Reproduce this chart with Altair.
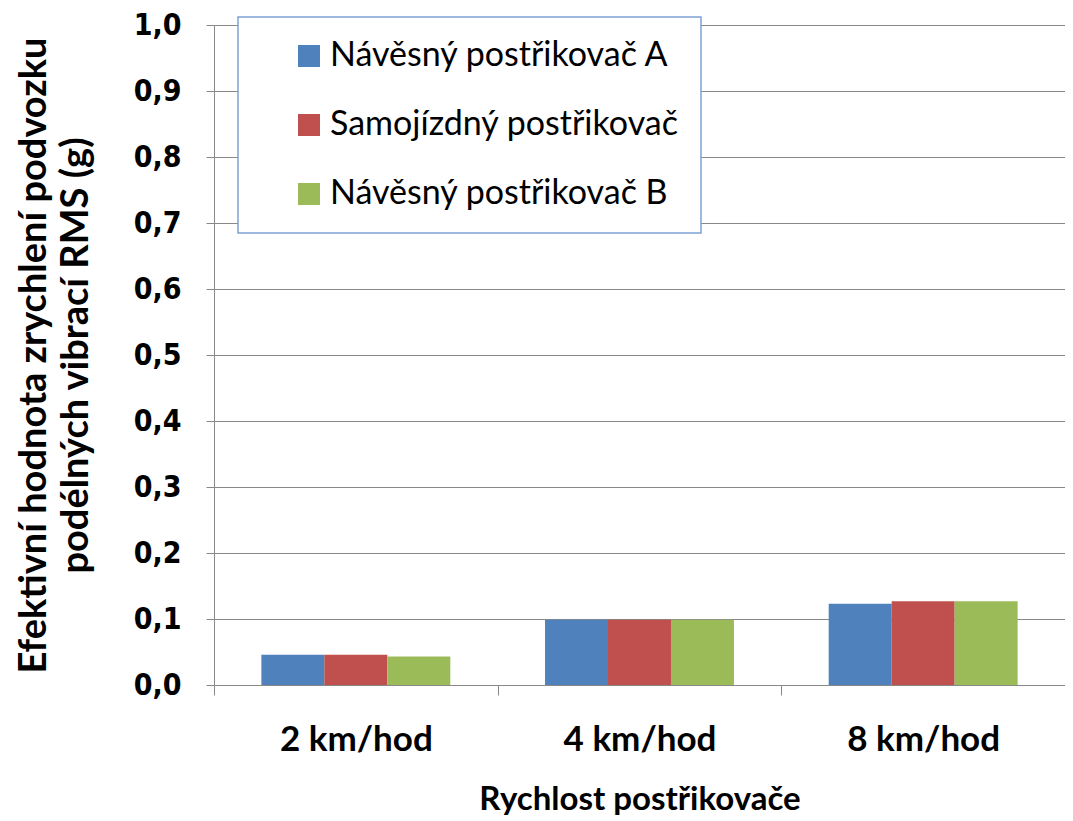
import altair as alt
import pandas as pd

categories = ["2 km/hod", "4 km/hod", "8 km/hod"]
series = ["Návěsný postřikovač A", "Samojízdný postřikovač", "Návěsný postřikovač B"]
values_a = [0.046, 0.099, 0.123]
values_s = [0.046, 0.099, 0.127]
values_b = [0.043, 0.099, 0.127]
colors = ["#4F81BD", "#C0504D", "#9BBB59"]
y_ticks = [round(i * 0.1, 1) for i in range(11)]

rows = []
for s, vals in zip(series, [values_a, values_s, values_b]):
    for c, v in zip(categories, vals):
        rows.append({"cat": c, "series": s, "value": v})
df = pd.DataFrame(rows)

bars = alt.Chart(df).mark_bar().encode(
    x=alt.X("cat:N", sort=categories,
            scale=alt.Scale(paddingInner=0, paddingOuter=0),
            axis=alt.Axis(title="Rychlost postřikovače", labelAngle=0,
                          tickBand="extent", grid=False,
                          labelFont="Lato", labelFontWeight="bold", labelFontSize=35,
                          labelColor="black", labelPadding=27,
                          titleFont="Lato", titleFontWeight="bold", titleFontSize=33,
                          titleColor="black", titlePadding=26,
                          domainColor="#888888", tickColor="#888888", tickSize=10)),
    xOffset=alt.XOffset("series:N", sort=series,
                        scale=alt.Scale(paddingInner=0, paddingOuter=0.752)),
    y=alt.Y("value:Q", scale=alt.Scale(domain=[0, 1]),
            axis=alt.Axis(title=["Efektivní hodnota zrychlení podvozku",
                                 "podélných vibrací RMS (g)"],
                          values=y_ticks,
                          labelExpr="replace(format(datum.value, '.1f'), '.', ',')",
                          labelFont="DejaVu Sans Condensed, DejaVu Sans",
                          labelFontWeight="bold", labelFontSize=30, labelColor="black",
                          labelPadding=25,
                          titleFont="Lato", titleFontWeight="bold", titleFontSize=38,
                          titleColor="black", titleLineHeight=42, titlePadding=38,
                          gridColor="#888888", domainColor="#888888",
                          tickColor="#888888", tickSize=8)),
    color=alt.Color("series:N", sort=series,
                    scale=alt.Scale(domain=series, range=colors),
                    legend=alt.Legend(title=None, orient="none", legendX=24, legendY=-8,
                                      symbolType="square", symbolSize=484,
                                      symbolStrokeWidth=0, symbolOffset=32,
                                      labelFont="Lato", labelFontSize=34,
                                      labelColor="black", labelOffset=4,
                                      labelLimit=500,
                                      rowPadding=35, padding=22,
                                      strokeColor="#7FA3D6", fillColor="white")),
).properties(width=851, height=660)

chart = bars.configure_view(stroke=None).configure_legend(strokeWidth=1.5).properties(
    autosize=alt.AutoSizeParams(type="none"),
    padding={"left": 206, "top": 17, "right": 0, "bottom": 132}, background="white")

chart.save("out.html", embed_options={"renderer": "svg", "actions": False})
